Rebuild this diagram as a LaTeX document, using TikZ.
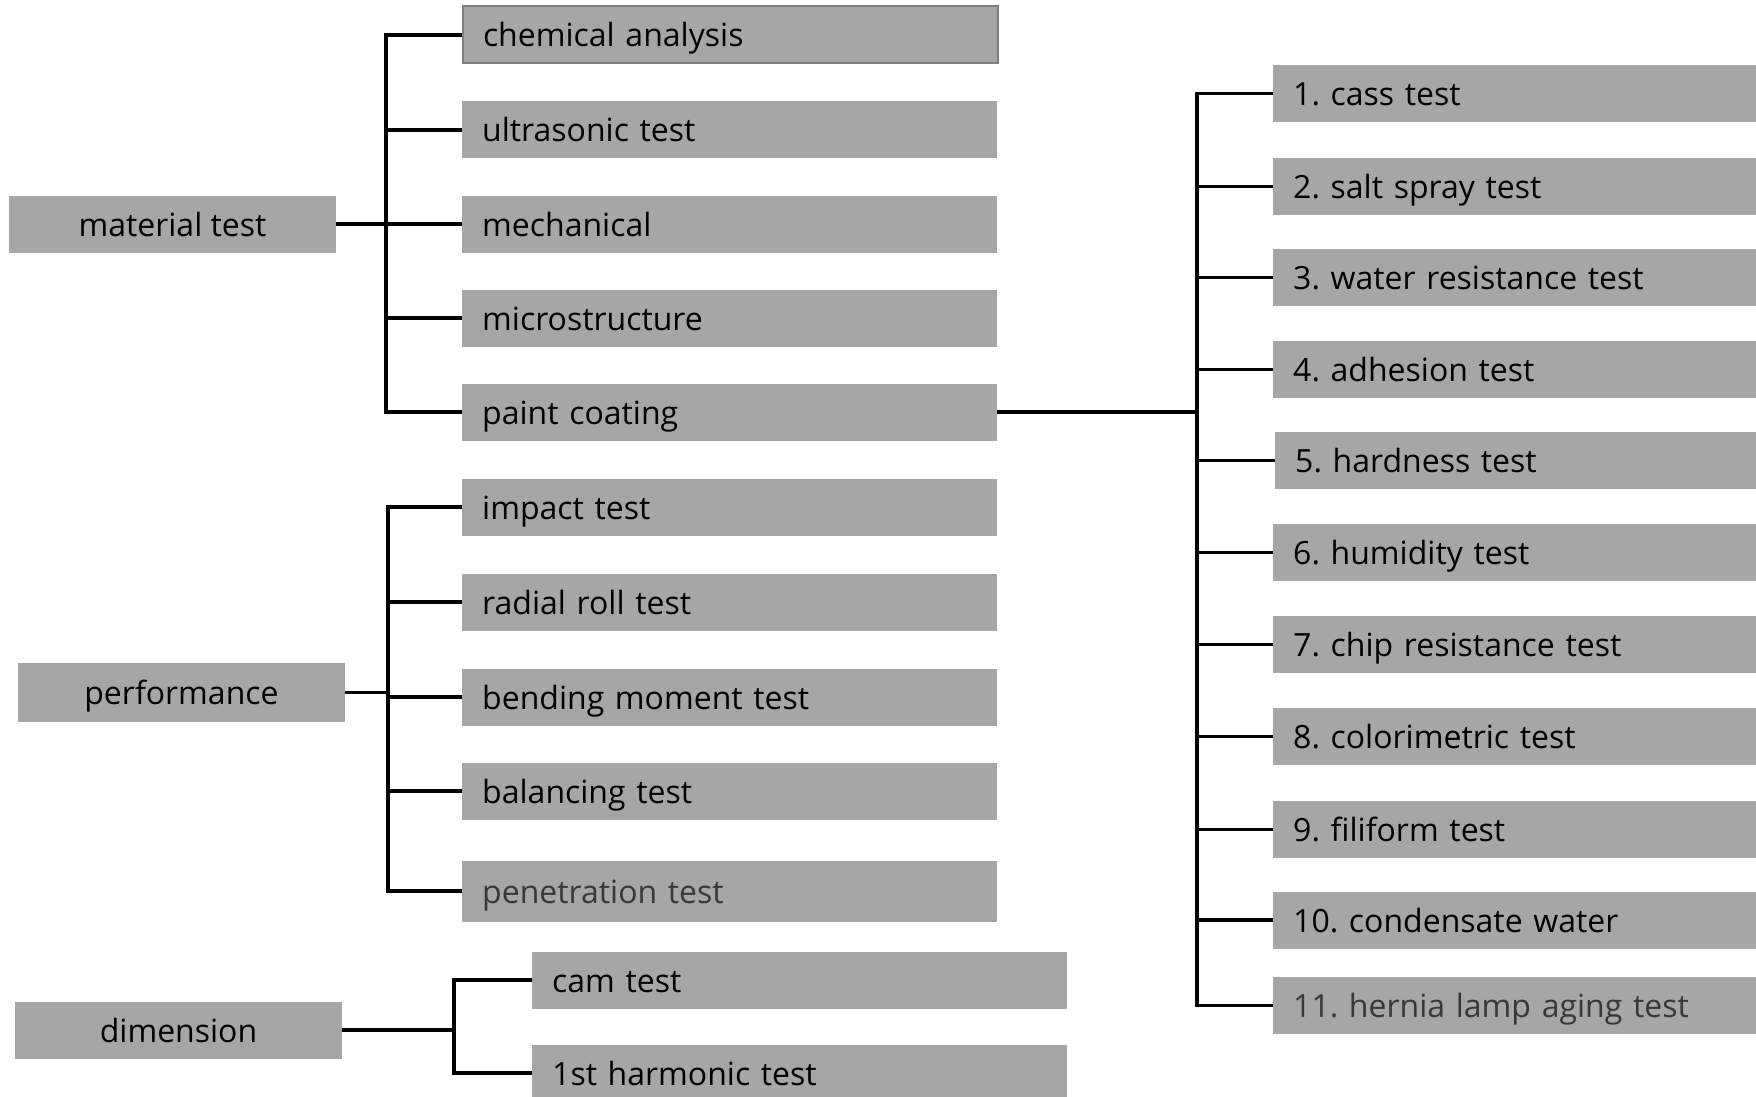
\documentclass[tikz,border=0pt]{standalone}
\usepackage{fontspec}
\setmainfont{Open Sans}
\frenchspacing
\definecolor{boxgray}{HTML}{A6A6A6}
\definecolor{edgegray}{HTML}{7F7F7F}
\definecolor{dimtext}{HTML}{383838}
\begin{document}
\begin{tikzpicture}[x=1pt,y=-1pt,
  every node/.style={font=\fontsize{32}{38}\selectfont, text height=27pt, text depth=3pt},
  leftbox/.style={fill=boxgray, minimum width=327pt, minimum height=57pt, inner sep=0pt, align=center},
  midbox/.style={fill=boxgray, anchor=west, text width=495pt, inner xsep=20pt, inner ysep=0pt, minimum height=57pt, align=left},
  rightbox/.style={fill=boxgray, anchor=west, text width=463pt, inner xsep=20pt, inner ysep=0pt, minimum height=57pt, align=left},
  conn/.style={draw=black, line width=3.5pt}
]
\useasboundingbox (0,0) rectangle (1756,1097);
\begin{scope}
\clip (0,0) rectangle (1756,1097);
% left boxes
\node[leftbox] (mat) at (172.5,224) {material test};
\node[leftbox, minimum height=59pt] (perf) at (181.5,692.5) {performance};
\node[leftbox] (dim) at (178.5,1030) {dimension};
% middle boxes
\node[midbox, draw=edgegray, line width=2pt, minimum height=57pt] (chem) at (462,35) {chemical analysis};
\node[midbox] (ultra) at (462,130) {ultrasonic test};
\node[midbox] (mech) at (462,224) {mechanical};
\node[midbox] (micro) at (462,318) {microstructure};
\node[midbox] (paint) at (462,412) {paint coating};
\node[midbox] (impact) at (462,507) {impact test};
\node[midbox] (radial) at (462,602) {radial roll test};
\node[midbox] (bend) at (462,697) {bending moment test};
\node[midbox] (bal) at (462,791) {balancing test};
\node[midbox, minimum height=61pt, text=dimtext] (pen) at (462,891) {penetration test};
\node[midbox] (cam) at (532,980) {cam test};
\node[midbox] (harm) at (532,1073) {1st harmonic test};
% right boxes
\node[rightbox] (r1) at (1273,93.5) {1. cass test};
\node[rightbox] (r2) at (1273,186.5) {2. salt spray test};
\node[rightbox] (r3) at (1273,277.5) {3. water resistance test};
\node[rightbox] (r4) at (1273,369.5) {4. adhesion test};
\node[rightbox] (r5) at (1275,460.5) {5. hardness test};
\node[rightbox] (r6) at (1273,552.5) {6. humidity test};
\node[rightbox] (r7) at (1273,644.5) {7. chip resistance test};
\node[rightbox] (r8) at (1273,736.5) {8. colorimetric test};
\node[rightbox] (r9) at (1273,829.5) {9. filiform test};
\node[rightbox] (r10) at (1273,920) {10. condensate water};
\node[rightbox, text=dimtext] (r11) at (1273,1005.5) {11. hernia lamp aging test};
\end{scope}
% trunk coordinates
\coordinate (mt) at (386,0);
\coordinate (pt) at (388,0);
\coordinate (dt) at (454,0);
\coordinate (rt) at (1197,0);
% material test connectors
\draw[conn] (chem.west) -| (mt |- paint.west) -- (paint.west);
\foreach \n in {ultra,mech,micro} \draw[conn] (\n.west) -- (\n.west -| mt);
\draw[conn] (mat.east) -- (mat.east -| mt);
% performance connectors
\draw[conn] (impact.west) -| (pt |- pen.west) -- (pen.west);
\foreach \n in {radial,bend,bal} \draw[conn] (\n.west) -- (\n.west -| pt);
\draw[conn] (perf.east) -- (perf.east -| pt);
% dimension connectors
\draw[conn] (cam.west) -| (dt |- harm.west) -- (harm.west);
\draw[conn] (dim.east) -- (dim.east -| dt);
% paint coating connectors
\draw[conn] (r1.west) -| (rt |- r11.west) -- (r11.west);
\foreach \n in {r2,r3,r4,r5,r6,r7,r8,r9,r10} \draw[conn] (\n.west) -- (\n.west -| rt);
\draw[conn] (paint.east) -- (paint.east -| rt);
\end{tikzpicture}
\end{document}
